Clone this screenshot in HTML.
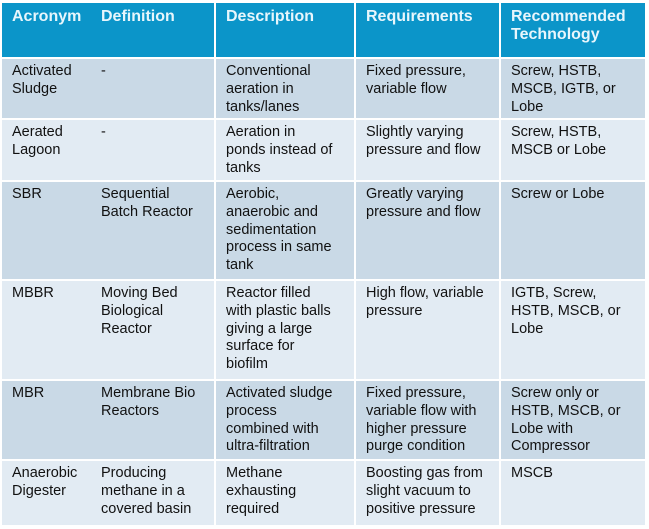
<!DOCTYPE html>
<html><head><meta charset="utf-8"><style>
body{margin:0;width:649px;height:529px;background:#fff;overflow:hidden;font-family:"Liberation Sans",Arial,sans-serif;}
.c{position:absolute;box-sizing:border-box;padding:4px 0 0 10px;font-size:14.5px;line-height:17.8px;color:#111;}
.h{background:#0b95c9;color:#e8f6fc;font-weight:bold;padding-top:5px;font-size:16px;line-height:18px;}
.d{background:#c9d9e6;}
.l{background:#e2ebf3;}
</style></head><body>
<div id="t"></div>
<script>
const cols=[[2,89],[91,123],[216,138],[356,143],[501,144]];
const rows=[[3,54],[59,59],[120,60],[182,97],[281,98],[381,78],[461,64]];
const data=[
["Acronym","Definition","Description","Requirements","Recommended<br>Technology"],
["Activated<br>Sludge","-","Conventional<br>aeration in<br>tanks/lanes","Fixed pressure,<br>variable flow","Screw, HSTB,<br>MSCB, IGTB, or<br>Lobe"],
["Aerated<br>Lagoon","-","Aeration in<br>ponds instead of<br>tanks","Slightly varying<br>pressure and flow","Screw, HSTB,<br>MSCB or Lobe"],
["SBR","Sequential<br>Batch Reactor","Aerobic,<br>anaerobic and<br>sedimentation<br>process in same<br>tank","Greatly varying<br>pressure and flow","Screw or Lobe"],
["MBBR","Moving Bed<br>Biological<br>Reactor","Reactor filled<br>with plastic balls<br>giving a large<br>surface for<br>biofilm","High flow, variable<br>pressure","IGTB, Screw,<br>HSTB, MSCB, or<br>Lobe"],
["MBR","Membrane Bio<br>Reactors","Activated sludge<br>process<br>combined with<br>ultra-filtration","Fixed pressure,<br>variable flow with<br>higher pressure<br>purge condition","Screw only or<br>HSTB, MSCB, or<br>Lobe with<br>Compressor"],
["Anaerobic<br>Digester","Producing<br>methane in a<br>covered basin","Methane<br>exhausting<br>required","Boosting gas from<br>slight vacuum to<br>positive pressure","MSCB"]];
const t=document.getElementById('t');
rows.forEach((r,i)=>{cols.forEach((c,j)=>{
const e=document.createElement('div');
e.className='c '+(i==0?'h':(i%2?'d':'l'));
e.style.left=c[0]+'px';e.style.top=r[0]+'px';e.style.width=c[1]+'px';e.style.height=r[1]+'px';
e.innerHTML=data[i][j];


t.appendChild(e);});});
</script>
</body></html>
